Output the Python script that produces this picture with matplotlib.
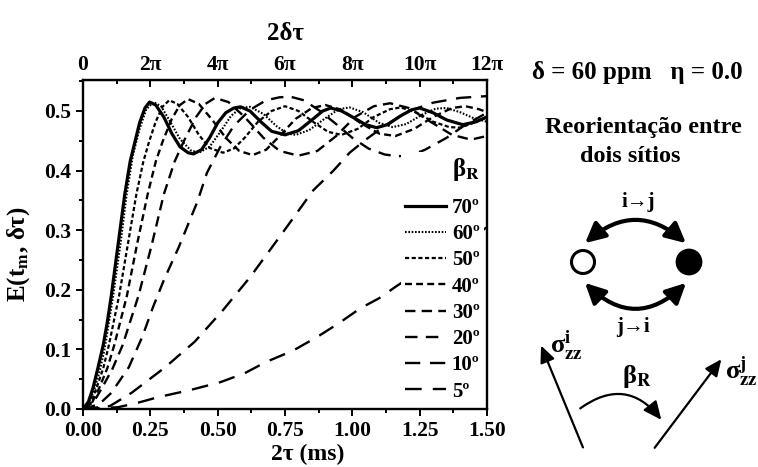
import numpy as np
import matplotlib
matplotlib.use("Agg")
import matplotlib.pyplot as plt
from matplotlib.ticker import AutoMinorLocator, FixedLocator
from matplotlib.patches import FancyArrowPatch, Circle

plt.rcParams['font.family'] = ['Liberation Serif', 'DejaVu Serif']
plt.rcParams['font.weight'] = 'bold'
plt.rcParams['axes.labelweight'] = 'bold'
plt.rcParams['mathtext.fontset'] = 'stix'
plt.rcParams['mathtext.default'] = 'bf'
plt.rcParams['lines.scale_dashes'] = False

# curves: 2tau (ms) vs E(tm, dtau)
x70 = [0, 0.02, 0.037, 0.055, 0.075, 0.09, 0.105, 0.13, 0.155, 0.175, 0.19, 0.21, 0.23, 0.247, 0.27, 0.3,
       0.33, 0.36, 0.39, 0.41, 0.44, 0.47, 0.5, 0.53, 0.56, 0.585, 0.62, 0.66, 0.7, 0.75, 0.8, 0.85, 0.89,
       0.92, 0.96, 1.0, 1.05, 1.09, 1.13, 1.18, 1.22, 1.25, 1.3, 1.35, 1.41, 1.46, 1.5]
y70 = [0, 0.012, 0.035, 0.068, 0.107, 0.145, 0.19, 0.275, 0.36, 0.415, 0.443, 0.48, 0.505, 0.515, 0.51, 0.49,
       0.462, 0.44, 0.43, 0.428, 0.435, 0.455, 0.48, 0.497, 0.505, 0.507, 0.5, 0.482, 0.466, 0.46, 0.467, 0.485, 0.5,
       0.505, 0.5, 0.49, 0.477, 0.472, 0.477, 0.492, 0.502, 0.505, 0.497, 0.485, 0.477, 0.482, 0.49]

x60 = [0, 0.02, 0.04, 0.06, 0.08, 0.112, 0.14, 0.162, 0.185, 0.21, 0.235, 0.262, 0.29, 0.32, 0.36, 0.4,
       0.43, 0.47, 0.51, 0.55, 0.585, 0.62, 0.67, 0.72, 0.76, 0.79, 0.84, 0.9, 0.95, 0.99, 1.04, 1.1, 1.15,
       1.2, 1.26, 1.31, 1.35, 1.4, 1.45, 1.5]
y60 = [0, 0.01, 0.03, 0.06, 0.1, 0.19, 0.28, 0.36, 0.425, 0.47, 0.503, 0.515, 0.508, 0.485, 0.453, 0.434,
       0.43, 0.44, 0.465, 0.492, 0.505, 0.507, 0.495, 0.474, 0.462, 0.46, 0.468, 0.488, 0.503, 0.506, 0.498, 0.48, 0.473,
       0.478, 0.494, 0.504, 0.505, 0.498, 0.488, 0.482]

x50 = [0, 0.03, 0.05, 0.075, 0.096, 0.134, 0.166, 0.198, 0.224, 0.245, 0.27, 0.295, 0.32, 0.35, 0.39, 0.43,
       0.47, 0.52, 0.56, 0.6, 0.65, 0.7, 0.75, 0.8, 0.86, 0.91, 0.96, 1.02, 1.08, 1.14, 1.18, 1.24, 1.3,
       1.36, 1.4, 1.45, 1.5]
y50 = [0, 0.012, 0.035, 0.068, 0.107, 0.19, 0.275, 0.36, 0.415, 0.448, 0.482, 0.507, 0.518, 0.512, 0.49, 0.46,
       0.438, 0.43, 0.437, 0.455, 0.482, 0.5, 0.508, 0.5, 0.48, 0.465, 0.46, 0.47, 0.49, 0.503, 0.506, 0.497, 0.482,
       0.473, 0.472, 0.48, 0.49]

x40 = [0, 0.035, 0.06, 0.09, 0.116, 0.163, 0.2, 0.24, 0.27, 0.295, 0.33, 0.36, 0.39, 0.43, 0.48, 0.53,
       0.58, 0.63, 0.68, 0.73, 0.79, 0.85, 0.9, 0.96, 1.03, 1.1, 1.16, 1.23, 1.3, 1.37, 1.42, 1.47, 1.5]
y40 = [0, 0.012, 0.035, 0.068, 0.107, 0.19, 0.275, 0.36, 0.415, 0.448, 0.487, 0.51, 0.52, 0.512, 0.485, 0.455,
       0.433, 0.426, 0.435, 0.458, 0.487, 0.505, 0.51, 0.502, 0.48, 0.462, 0.458, 0.47, 0.49, 0.505, 0.508, 0.503, 0.498]

x30 = [0, 0.04, 0.07, 0.11, 0.147, 0.206, 0.255, 0.3, 0.34, 0.375, 0.42, 0.455, 0.49, 0.54, 0.6, 0.67,
       0.73, 0.8, 0.87, 0.94, 1.01, 1.08, 1.14, 1.21, 1.29, 1.37, 1.44, 1.5]
y30 = [0, 0.012, 0.035, 0.068, 0.107, 0.19, 0.275, 0.36, 0.415, 0.45, 0.49, 0.512, 0.522, 0.515, 0.49, 0.455,
       0.433, 0.425, 0.433, 0.458, 0.49, 0.508, 0.513, 0.505, 0.482, 0.46, 0.452, 0.458]

x20 = [0, 0.06, 0.105, 0.17, 0.22, 0.26, 0.3, 0.356, 0.424, 0.46, 0.51, 0.56, 0.62, 0.68, 0.73, 0.77,
       0.82, 0.88, 0.94, 1.0, 1.06, 1.12, 1.17, 1.22, 1.27, 1.35, 1.42, 1.5]
y20 = [0, 0.008, 0.027, 0.07, 0.121, 0.171, 0.216, 0.272, 0.347, 0.396, 0.44, 0.475, 0.502, 0.518, 0.523, 0.524,
       0.518, 0.5, 0.478, 0.455, 0.437, 0.427, 0.424, 0.426, 0.435, 0.455, 0.477, 0.497]

x10 = [0, 0.1, 0.18, 0.305, 0.415, 0.52, 0.62, 0.74, 0.855, 0.93, 0.99, 1.05, 1.12, 1.2, 1.3, 1.4, 1.5]
y10 = [0, 0.005, 0.027, 0.07, 0.113, 0.166, 0.221, 0.295, 0.367, 0.4, 0.43, 0.452, 0.475, 0.498, 0.514, 0.522, 0.525]

x5 = [0, 0.13, 0.2, 0.28, 0.4, 0.51, 0.6, 0.68, 0.78, 0.87, 0.95, 1.03, 1.1, 1.17, 1.3, 1.4, 1.5]
y5 = [0, 0.003, 0.01, 0.02, 0.032, 0.045, 0.06, 0.079, 0.098, 0.121, 0.144, 0.169, 0.186, 0.208, 0.245, 0.275, 0.305]

labels = ["70º", "60º", "50º", "40º", "30º", "20º", "10º", "5º"]
xs = [x70, x60, x50, x40, x30, x20, x10, x5]
ys = [y70, y60, y50, y40, y30, y20, y10, y5]
# (linewidth, dash pattern in points)
styles = [(2.3, None), (1.5, (1.2, 1.2)), (1.6, (3, 1.8)), (1.7, (5, 3)),
          (1.7, (7.5, 4.5)), (1.7, (9, 6)), (1.7, (11, 7)), (1.7, (12, 8))]

top_ticks = [0, 2, 4, 6, 8, 10, 12]
top_labels = ["0", "2π", "4π", "6π", "8π", "10π", "12π"]

fig = plt.figure(figsize=(7.58, 4.67), dpi=100)
ax = fig.add_axes([83 / 758, 58 / 467, 404 / 758, 329 / 467])

for x, y, lab, (lw, dash) in zip(xs, ys, labels, styles):
    if dash is None:
        ax.plot(x, y, color="k", lw=lw, label=lab)
    else:
        ax.plot(x, y, color="k", lw=lw, dashes=dash, label=lab)

ax.set_xlim(0, 1.5)
ax.set_ylim(0, 0.552)
ax.set_xticks([0, 0.25, 0.5, 0.75, 1.0, 1.25, 1.5])
ax.set_xticklabels(["0.00", "0.25", "0.50", "0.75", "1.00", "1.25", "1.50"])
ax.set_yticks([0, 0.1, 0.2, 0.3, 0.4, 0.5])
ax.set_yticklabels(["0.0", "0.1", "0.2", "0.3", "0.4", "0.5"])
ax.xaxis.set_minor_locator(AutoMinorLocator(2))
ax.yaxis.set_minor_locator(AutoMinorLocator(2))
ax.tick_params(which="both", direction="out", top=False, right=False, width=1.4, labelsize=15.5)
ax.tick_params(which="major", length=5)
ax.tick_params(which="minor", length=3)
ax.tick_params(axis="x", pad=4)
for s in ax.spines.values():
    s.set_linewidth(1.7)

ax.set_xlabel("2τ (ms)", fontsize=17)
ax.xaxis.set_label_coords(0.557, -0.105)
ax.set_ylabel("E(t$_\\mathrm{m}$, δτ)", fontsize=18)
ax.yaxis.set_label_coords(-0.125, 0.47)

sec = ax.secondary_xaxis("top", functions=(lambda v: v * 8, lambda v: v / 8))
sec.xaxis.set_major_locator(FixedLocator(top_ticks))
sec.set_xticklabels(top_labels)
sec.xaxis.set_minor_locator(FixedLocator([1, 3, 5, 7, 9, 11]))
sec.tick_params(which="both", direction="in", width=1.4, labelsize=15.5, pad=3.5)
sec.tick_params(which="major", length=5)
sec.tick_params(which="minor", length=3)
sec.set_xlabel("2δτ", fontsize=18, labelpad=11)

leg = ax.legend(title="β$_\\mathrm{R}$", loc="lower right", frameon=True, facecolor="white",
                edgecolor="none", framealpha=1, fancybox=False, fontsize=15, title_fontsize=18,
                handlelength=1.95, handletextpad=0.3, labelspacing=0.3, borderpad=0.2,
                borderaxespad=0.15, alignment="right")
leg._legend_box.sep = 11

# right-hand annotations, in pixel coordinates
deco = fig.add_axes([0, 0, 1, 1])
deco.set_xlim(0, 758)
deco.set_ylim(467, 0)
deco.axis("off")
deco.patch.set_alpha(0)

deco.text(637, 72, "δ = 60 ppm   η = 0.0", fontsize=18, ha="center", va="center")
deco.text(643, 127, "Reorientação entre", fontsize=17.5, ha="center", va="center")
deco.text(630, 156, "dois sítios", fontsize=17.5, ha="center", va="center")
deco.text(638, 202, "i→j", fontsize=15, ha="center", va="center")
deco.text(633, 327, "j→i", fontsize=15, ha="center", va="center")
deco.text(637, 377, "β$_\\mathrm{R}$", fontsize=19, ha="center", va="center")
deco.text(566, 346, "σ${}_{zz}^{i}$", fontsize=19, ha="center", va="center")
deco.text(741, 372, "σ${}_{zz}^{j}$", fontsize=19, ha="center", va="center")

deco.add_patch(Circle((583, 262), 11.5, facecolor="white", edgecolor="k", lw=2.2))
deco.add_patch(Circle((689, 262), 12, facecolor="k", edgecolor="k", lw=2))

deco.add_patch(FancyArrowPatch((583, 245), (688, 245), connectionstyle="arc3,rad=-0.45",
                               arrowstyle="<|-|>,head_length=12,head_width=6", lw=3, color="k"))
deco.add_patch(FancyArrowPatch((583, 281), (688, 281), connectionstyle="arc3,rad=0.5",
                               arrowstyle="<|-|>,head_length=12,head_width=6", lw=3, color="k"))
deco.add_patch(FancyArrowPatch((584, 450), (540, 343), arrowstyle="-|>,head_length=10,head_width=4.5",
                               lw=1.6, color="k"))
deco.add_patch(FancyArrowPatch((653, 450), (723, 357), arrowstyle="-|>,head_length=10,head_width=4.5",
                               lw=1.6, color="k"))
deco.add_patch(FancyArrowPatch((578, 410), (663, 422), connectionstyle="arc3,rad=-0.5",
                               arrowstyle="-|>,head_length=11,head_width=5", lw=1.6, color="k"))

fig.savefig("out.png", dpi=100)
